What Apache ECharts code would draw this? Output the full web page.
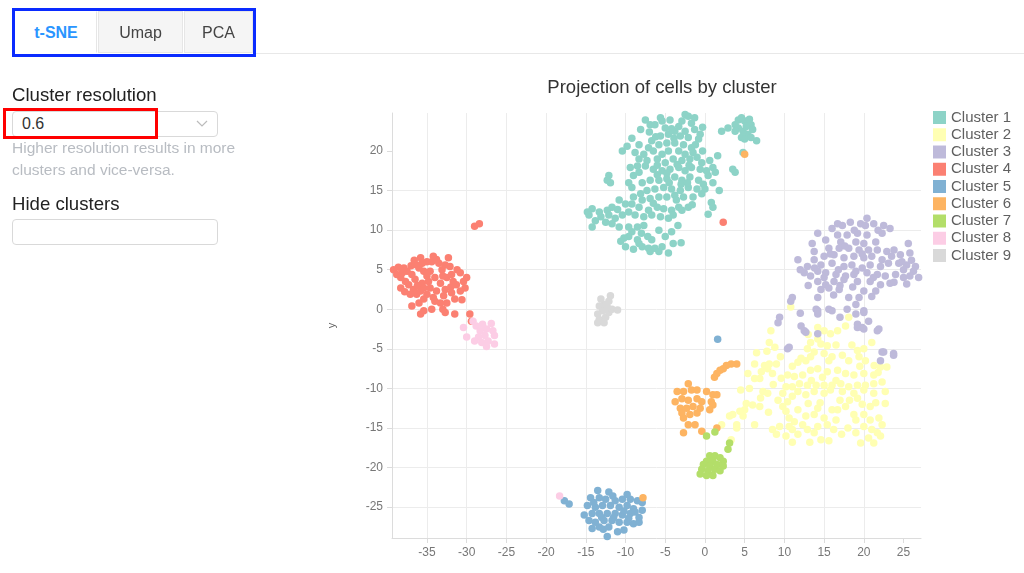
<!DOCTYPE html>
<html>
<head>
<meta charset="utf-8">
<script src="https://cdn.jsdelivr.net/npm/echarts@6/dist/echarts.min.js"></script>
<style>
  html, body { margin:0; padding:0; width:1024px; height:573px; background:#fff; overflow:hidden;
    font-family: "Helvetica Neue", Helvetica, Arial, "Liberation Sans", sans-serif; }
  #chart { position:absolute; left:0; top:0; width:1024px; height:573px; }
  .ui { position:absolute; z-index:2; box-sizing:border-box; }
  .tab { top:11px; height:42px; line-height:42px; text-align:center; font-size:16px; color:#444;
    background:#f5f5f5; border:1px solid #e6e6e6; }
  .lbl { font-size:18.6px; color:#222; white-space:nowrap; }
  .box { border:1px solid #d9d9d9; border-radius:4px; background:#fff; }
  .help { font-size:15.5px; color:#b8bcc2; line-height:22px; white-space:nowrap; }
</style>
</head>
<body>
<div id="chart"></div>

<div class="ui tab" style="left:15px;width:82px;background:#fff;color:#2a95ff;font-weight:600;border-color:#fff #e6e6e6 #fff #fff;">t-SNE</div>
<div class="ui tab" style="left:98px;width:85px;">Umap</div>
<div class="ui tab" style="left:184px;width:69px;">PCA</div>
<div class="ui" style="left:255px;top:53px;width:769px;height:1px;background:#e8e8e8;"></div>
<div class="ui" style="left:12px;top:8px;width:244px;height:49px;border:3px solid #0a2bff;"></div>

<div class="ui lbl" style="left:12px;top:84px;">Cluster resolution</div>
<div class="ui box" style="left:12px;top:111px;width:206px;height:26px;">
  <span style="position:absolute;left:9px;top:3px;font-size:16px;color:#333;">0.6</span>
  <svg style="position:absolute;left:183px;top:8px" width="12" height="8" viewBox="0 0 12 8"><polyline points="1,1 6,6 11,1" fill="none" stroke="#bbb" stroke-width="1.2"/></svg>
</div>
<div class="ui" style="left:3px;top:108px;width:155px;height:31px;border:3px solid #ff0000;"></div>
<div class="ui help" style="left:12px;top:137px;width:240px;">Higher resolution results in more<br>clusters and vice-versa.</div>
<div class="ui lbl" style="left:12px;top:193px;font-weight:500;">Hide clusters</div>
<div class="ui box" style="left:12px;top:219px;width:206px;height:26px;"></div>

<script>
// ---- data ----
const clusterNames = ["Cluster 1","Cluster 2","Cluster 3","Cluster 4","Cluster 5","Cluster 6","Cluster 7","Cluster 8","Cluster 9"];
const xTicks = [-35,-30,-25,-20,-15,-10,-5,0,5,10,15,20,25];
const yTicks = [-25,-20,-15,-10,-5,0,5,10,15,20];

const cluster1 = [
[-2.5,24.6],[-2.1,24.4],[-1.3,24.2],[-1.7,23.5],[-3.3,23.1],[-4.4,23.9],[-5.6,24.2],[-5.4,23.8],[-7.5,23.9],[-6.9,23.3],[-8.1,22.7],[-6.3,23.3],[-5.0,22.9],[-3.8,22.5],[-2.5,22.5],[-1.3,22.7],[-0.6,22.1],[-0.8,21.5],[-2.1,21.7],[-3.1,21.9],[-4.6,22.1],[-5.6,21.9],[-6.7,21.3],[-7.1,20.4],[-5.8,20.8],[-4.8,21.0],[-3.8,21.0],[-2.7,20.8],[-1.7,20.4],[-1.5,19.8],[-2.5,19.6],[-3.3,20.0],[-4.6,20.0],[-5.4,19.6],[-6.5,20.0],[-7.7,19.6],[-8.3,19.0],[-7.3,18.8],[-6.0,19.0],[-5.0,18.5],[-4.0,19.0],[-2.9,18.8],[-1.9,19.0],[-1.0,19.2],[-0.4,18.5],[0.6,18.8],[1.0,17.9],[1.3,17.3],[0.4,16.9],[-0.6,17.7],[-1.7,17.9],[-2.5,17.5],[-3.3,17.9],[-4.4,17.7],[-5.4,17.5],[-6.5,17.7],[-7.5,18.1],[-8.3,17.3],[-9.0,16.9],[-9.6,16.0],[-9.2,15.4],[-7.9,16.0],[-6.9,16.3],[-5.8,16.3],[-4.8,16.5],[-3.8,16.7],[-2.9,16.3],[-1.9,16.7],[-0.8,16.3],[0.0,15.2],[-1.0,15.2],[-2.1,15.4],[-3.1,15.0],[-4.2,15.2],[-5.2,15.4],[-6.3,15.2],[-7.3,15.0],[-8.1,14.6],[-7.9,13.8],[-6.9,14.0],[-5.8,14.2],[-4.8,14.2],[-3.8,14.4],[-2.7,14.2],[-1.5,14.2],[-0.4,14.6],[1.0,16.0],[0.8,13.5],[1.0,12.9],[-2.1,12.9],[-3.3,12.9],[-4.2,12.5],[-5.2,12.7],[-6.0,12.9],[-7.1,12.5],[-8.3,12.9],[-9.2,13.3],[-10.0,13.3],[-10.8,13.8],[-11.7,12.9],[-12.3,12.5],[-13.3,12.3],[-14.2,12.7],[-14.8,12.3],[-14.6,11.9],[-13.1,11.7],[-12.1,11.9],[-11.3,11.5],[-10.4,11.9],[-9.6,12.3],[-8.8,11.9],[-7.7,11.7],[-6.7,11.9],[-5.6,11.7],[-4.6,11.5],[-4.0,11.9],[-2.9,12.5],[-7.7,10.6],[-8.5,10.4],[-9.2,9.8],[-9.6,9.2],[-10.2,9.0],[-10.8,10.4],[-11.7,10.8],[-12.5,11.0],[-14.2,10.4],[-9.6,10.4],[-8.5,8.8],[-7.9,7.9],[-7.1,7.7],[-6.3,7.7],[-5.4,7.9],[-4.6,7.1],[-4.0,8.3],[-5.8,7.3],[-6.9,7.3],[-8.3,8.3],[-10.0,7.9],[-6.7,8.8],[-5.0,9.2],[-4.2,9.8],[-10.4,20.0],[-9.8,20.6],[-8.3,20.8],[-12.1,16.9],[-11.9,16.0],[-12.3,16.3],[-9.4,17.9],[-8.5,18.1],
[-3.5,18.3],[-2.0,18.2],[-4.5,16.0],[-3.0,15.8],[-6.0,17.0],[-1.2,20.8],[-3.9,21.6],[-6.2,21.8],[-0.3,20.0],[0.2,17.5],
[-7.0,22.4],[-4.2,22.8],[-2.9,23.8],[-0.3,23.0],[-9.2,21.6],[-8.8,19.8],[-6.0,18.2],[-4.8,17.2],[-2.2,16.0],[-0.2,15.8],[-3.6,13.8],[-6.5,13.4],[-9.0,14.2],[-11.0,12.6],[-13.8,11.2],[-8.0,9.6],[-7.2,9.2],[-5.8,10.0],[-3.4,10.6],[0.4,12.0],[1.8,15.0],[1.6,19.4],[-1.6,13.2],[-10.6,8.6],[-9.0,7.6],[-3.0,8.4],
[2.1,22.5],[2.9,22.9],[3.8,23.3],[4.2,23.9],[4.6,24.2],[5.0,23.8],[5.4,23.8],[5.8,23.3],[6.0,22.7],[5.4,22.1],[4.8,22.5],[4.2,22.9],[3.8,22.5],[4.6,21.7],[5.0,21.5],[5.8,21.7],[6.5,21.3],[5.6,24.0],[5.2,23.1],[4.8,19.8],[3.5,17.7],[3.8,17.3]
];
const cluster2 = [
[8.3,-2.7],[8.1,-4.2],[14.2,-2.3],[15.0,-2.7],[15.8,-3.1],[16.7,-2.7],[17.7,-2.1],[18.1,-1.0],[14.2,-3.75],[13.3,-4.2],[14.6,-4.4],[15.4,-4.6],[12.9,-5.0],[13.75,-5.4],[13.3,-6.0],[12.1,-6.2],[12.7,-6.5],[11.7,-6.7],[15.0,-5.6],[16.0,-6.0],[15.6,-6.5],[17.3,-5.8],[18.1,-6.5],[19.2,-5.2],[19.4,-6.0],[21.0,-4.2],[20.2,-6.5],[21.3,-7.1],[22.1,-7.3],[22.9,-7.3],[6.25,-6.9],[7.5,-7.1],[8.1,-6.9],[9.0,-6.9],[7.9,-7.5],[7.1,-7.9],[6.25,-8.75],[5.4,-8.1],[6.9,-8.75],[8.5,-8.1],[10.4,-8.3],[11.25,-8.5],[12.3,-8.3],[13.3,-7.7],[14.2,-7.5],[15.4,-7.9],[16.7,-7.7],[17.7,-8.1],[18.75,-8.3],[20.0,-8.1],[21.25,-8.3],[22.3,-9.2],[21.25,-9.4],[20.2,-9.6],[19.2,-9.6],[18.1,-9.8],[17.1,-9.4],[16.0,-9.6],[15.0,-9.6],[14.0,-9.6],[12.9,-9.6],[11.9,-9.4],[11.0,-9.8],[10.2,-9.8],[11.7,-10.4],[12.7,-10.8],[13.75,-10.4],[15.0,-10.6],[15.8,-10.2],[17.3,-10.4],[18.75,-10.6],[20.0,-10.2],[21.25,-10.6],[22.7,-10.4],[19.2,-11.25],[7.3,-10.4],[7.9,-10.6],[9.2,-11.5],[9.8,-12.3],[10.2,-12.9],[10.4,-11.7],[5.2,-11.9],[6.0,-12.1],[6.9,-12.3],[5.0,-12.7],[3.5,-13.3],[3.1,-13.5],[4.0,-14.6],[6.25,-14.6],[4.8,-13.5],[11.7,-12.7],[12.7,-13.5],[13.75,-13.3],[15.0,-13.75],[16.0,-12.7],[16.7,-12.7],[17.7,-12.3],[18.75,-13.3],[20.0,-13.3],[20.8,-12.3],[20.8,-14.0],[21.9,-13.75],[10.6,-13.75],[11.25,-14.2],[10.6,-14.8],[9.4,-14.8],[8.5,-15.2],[9.0,-15.8],[10.2,-16.0],[11.0,-15.2],[11.7,-15.8],[12.3,-14.6],[12.9,-15.2],[13.75,-15.6],[14.6,-16.5],[14.2,-14.8],[15.4,-14.6],[16.2,-15.2],[19.0,-15.6],[20.0,-14.8],[21.0,-15.2],[22.1,-16.0],[19.6,-16.9],[20.6,-16.25],[21.25,-16.9],
[4.4,-12.9],[4.0,-15.0],[3.3,-16.5],[2.1,-14.6],[22.7,-11.9],[22.3,-14.6],[10.8,0.3],[6.5,-5.5],[7.8,-5.3],[8.8,-4.8],[9.5,-6.0],[17.0,-11.5],[14.5,-11.8],[13.0,-11.9],[16.5,-14.0],[18.0,-15.0],[19.8,-12.0],[11.0,-11.0],[8.6,-9.5],[9.6,-8.7],[4.5,-10.2],[5.6,-10.0],
[13.0,-3.2],[16.5,-4.5],[18.5,-4.5],[20.0,-5.0],[11.0,-7.2],[14.8,-8.6],[19.5,-7.2],[21.8,-8.0],[13.4,-9.0],[16.5,-9.0],[9.8,-10.6],[14.2,-12.5],[18.2,-11.5],[21.5,-11.8],[19.0,-14.0],[17.2,-15.8],[13.2,-16.8],[11.0,-16.8],[8.0,-13.0],[7.0,-11.2],[15.6,-16.6],[21.7,-15.6]
];
const cluster3 = [
[16.7,10.8],[17.3,10.6],[18.3,11.0],[19.6,10.8],[20.4,11.5],[21.25,10.8],[22.5,10.6],[23.3,10.2],[20.2,10.6],[14.2,9.6],[16.7,9.4],[17.9,9.4],[19.2,9.6],[20.4,9.4],[22.3,9.6],[15.2,8.75],[17.1,8.5],[19.0,8.5],[20.0,8.3],[21.5,8.5],[25.6,8.3],[13.5,8.3],[13.75,7.3],[15.6,7.7],[16.9,7.7],[18.1,7.7],[19.4,7.5],[20.6,7.5],[21.7,7.5],[22.9,7.3],[13.75,6.25],[15.0,6.7],[16.25,6.9],[17.5,6.5],[18.75,6.7],[20.0,6.5],[21.0,6.7],[22.3,6.25],[23.5,6.7],[24.6,6.9],[25.8,7.1],[11.7,6.25],[12.9,5.4],[14.6,5.6],[16.0,5.8],[17.5,5.4],[18.5,5.6],[19.8,5.2],[20.8,5.6],[22.1,5.4],[23.1,5.8],[24.4,5.8],[25.4,5.6],[26.5,5.4],[25.0,5.0],[26.25,4.8],[26.9,4.0],[12.5,4.6],[13.3,4.2],[14.2,4.8],[15.2,4.6],[16.5,4.4],[17.7,4.2],[18.75,4.4],[20.4,4.6],[21.7,4.4],[22.7,4.2],[24.0,4.4],[25.0,4.0],[25.8,4.2],[14.2,3.5],[15.2,3.1],[16.25,3.5],[17.5,3.75],[19.2,3.5],[20.8,3.5],[22.1,3.1],[23.3,3.3],[14.6,2.5],[15.6,2.7],[16.9,2.5],[18.1,1.5],[20.0,2.3],[21.5,2.3],[19.4,1.5],[14.2,1.5],[15.6,0.0],[14.0,0.0],[14.2,-0.6],[19.0,0.6],[17.9,0.0],[20.0,-0.2],[11.0,1.5],[10.8,1.0],[9.4,-1.0],[9.2,-1.7],[12.5,-2.7],[19.2,-1.9],[19.8,-2.3],[21.9,-2.5],[10.6,-4.8],[22.3,-5.4],[23.75,-5.6],
[12.1,-2.1],[14.2,-3.1],[12.7,-2.9],[14.2,-0.2],[16.0,-0.2],[19.0,-0.6],[20.0,-0.4],[19.2,-2.3],[20.0,-2.5],[20.6,-1.5],[21.7,-2.7],[10.4,-5.0],[22.5,-5.4],[23.75,-5.8],[22.1,-6.5],
[16.0,10.2],[18.8,10.0],[21.8,10.0],[15.8,7.0],[17.6,8.0],[19.8,7.0],[23.8,7.5],[24.8,6.0],[26.0,6.2],[12.0,5.0],[13.8,5.2],[16.8,5.0],[19.0,4.8],[21.2,4.0],[23.8,3.4],[25.4,3.2],[15.0,4.0],[17.0,3.0],[18.6,2.8],[13.0,3.0],[16.2,1.8],[21.0,1.6],[12.0,-0.5],[17.0,-1.0]
];
const cluster4 = [
[-39.2,5.0],[-38.8,4.4],[-38.1,4.6],[-37.5,4.8],[-38.3,4.0],[-37.7,3.5],[-38.3,2.7],[-36.9,4.4],[-36.5,3.8],[-37.3,3.1],[-36.7,2.5],[-35.8,6.5],[-35.6,5.8],[-36.0,5.2],[-35.4,4.8],[-35.0,4.2],[-35.6,3.3],[-36.3,1.9],[-36.9,0.4],[-36.0,0.8],[-35.4,1.3],[-35.0,1.9],[-34.6,2.7],[-34.2,6.7],[-33.5,5.8],[-33.1,5.0],[-32.3,6.5],[-32.1,5.4],[-34.0,4.0],[-33.3,3.3],[-32.5,4.0],[-31.9,4.4],[-30.8,4.6],[-30.4,3.5],[-31.3,3.1],[-32.7,2.5],[-31.9,2.1],[-30.8,2.3],[-34.2,1.5],[-33.3,0.8],[-34.4,0.0],[-35.4,-0.2],[-32.7,-0.4],[-31.5,-0.6],[-33.8,2.3],[-34.8,3.5],[-32.9,1.7],[-31.5,1.3],[-30.2,2.7],[-37.9,5.2],[-35.4,2.7],[-32.5,0.8],[-29.6,-0.6],[-29.4,-1.5],
[-34.4,6.0],[-32.7,5.6],[-36.3,5.6],[-34.6,4.8],[-35.8,2.3],[-37.1,1.9],[-31.7,3.5],
[-38.6,5.3],[-37.0,5.5],[-36.6,6.2],[-35.0,6.0],[-33.8,6.3],[-33.0,4.2],[-31.2,5.0],[-30.0,4.0],[-36.2,3.0],[-37.8,2.2],[-34.0,1.0],[-33.0,0.0],[-35.8,-0.6],[-30.6,1.2],[-32.0,2.8],
[-29.0,10.5],[-28.4,10.8],[2.3,11.0]
];
const cluster5 = [
[-13.5,-22.9],[-12.1,-23.1],[-14.4,-23.8],[-13.3,-23.8],[-12.5,-24.0],[-11.3,-24.2],[-10.4,-24.0],[-9.4,-24.0],[-8.5,-24.2],[-7.9,-24.4],[-14.8,-24.8],[-13.8,-25.0],[-12.9,-24.8],[-11.9,-24.8],[-10.8,-25.0],[-9.8,-24.8],[-9.0,-25.2],[-7.9,-25.4],[-15.2,-26.0],[-14.2,-25.8],[-13.3,-25.8],[-12.3,-25.8],[-11.3,-25.8],[-10.4,-26.0],[-9.4,-25.8],[-8.3,-26.3],[-14.6,-26.7],[-13.8,-26.9],[-12.7,-26.7],[-11.7,-26.7],[-10.8,-26.9],[-9.8,-26.9],[-9.0,-27.1],[-14.2,-27.7],[-13.3,-27.5],[-12.1,-27.5],[-11.0,-28.1],[-10.2,-27.9],[-12.3,-28.7],[-8.3,-26.9],[-11.5,-26.3],
[-14.0,-24.4],[-11.6,-23.6],[-9.8,-23.4],[-8.8,-25.6],[-13.0,-26.3],[-10.2,-25.5],[-12.8,-27.8],[-9.6,-26.4],
[-17.7,-24.2],[-17.1,-24.6],[1.6,-3.8]
];
const cluster6 = [
[4.0,-6.9],[3.3,-6.9],[2.7,-7.1],[2.3,-7.5],[1.9,-7.7],[1.5,-8.1],[1.2,-8.6],
[-2.1,-9.4],[-3.5,-10.4],[-2.7,-10.4],[-1.7,-10.2],[-1.0,-10.2],[0.2,-10.4],[1.0,-10.8],[1.5,-10.8],[-3.75,-11.7],[-2.9,-11.3],[-2.1,-11.5],[-1.0,-11.3],[-0.4,-11.7],[0.8,-11.7],[1.0,-12.1],[-3.1,-12.5],[-2.3,-12.5],[-1.5,-12.3],[-0.6,-12.5],[0.6,-12.7],[-2.9,-13.1],[-1.9,-13.3],[-1.0,-13.1],[-2.7,-13.75],[-2.1,-14.6],[-1.25,-14.6],[-2.7,-15.6],[-0.4,-15.4],[1.5,-15.0],
[5.0,19.6],[-7.8,-23.8]
];
const cluster7 = [
[0.2,-16.0],[1.25,-15.5],[3.1,-16.9],[2.9,-17.7],[0.6,-18.5],[1.25,-18.5],[1.9,-18.75],[2.3,-19.2],[0.2,-19.2],[1.0,-19.2],[-0.2,-19.6],[0.6,-19.8],[1.5,-19.6],[2.3,-19.8],[-0.4,-20.2],[0.4,-20.4],[1.25,-20.2],[1.9,-20.4],[-0.6,-20.8],[0.2,-21.0],[1.0,-21.0]
];
const cluster8 = [
[-29.2,-1.5],[-30.4,-2.3],[-28.8,-2.1],[-28.0,-1.9],[-26.9,-1.8],[-28.3,-2.7],[-27.5,-2.5],[-26.7,-2.7],[-30.0,-3.5],[-28.5,-3.5],[-27.7,-3.3],[-26.5,-3.3],[-28.1,-4.2],[-27.3,-4.0],[-26.5,-4.4],[-27.5,-4.7],[-29.0,-4.0],
[-18.3,-23.6]
];
const cluster9 = [
[-11.9,1.7],[-12.1,1.0],[-12.7,0.6],[-13.3,0.4],[-12.9,-0.2],[-13.5,-0.6],[-13.3,-1.3],[-12.5,-1.0],[-12.1,-0.4],[-11.7,0.0],[-11.0,-0.1],[-13.5,-1.7],[-12.7,-1.7],[-13.1,1.3],[-12.3,0.3]
];
const clusterColors = ["#8dd3c7","#ffffb3","#bebada","#fb8072","#80b1d3","#fdb462","#b3de69","#fccde5","#d9d9d9"];
const allClusters = [cluster1,cluster2,cluster3,cluster4,cluster5,cluster6,cluster7,cluster8,cluster9];

// ---- chart ----
const chart = echarts.init(document.getElementById('chart'), null, {renderer:'canvas'});
const font = '"Helvetica Neue", Helvetica, Arial, "Liberation Sans", sans-serif';
chart.setOption({
  animation: false,
  color: clusterColors,
  textStyle: { fontFamily: font },
  title: {
    text: 'Projection of cells by cluster',
    left: 657, textAlign: 'center', top: 73,
    textStyle: { fontSize: 18.5, fontWeight: 'normal', color: '#333', fontFamily: font }
  },
  legend: {
    orient: 'vertical', left: 928, top: 105,
    icon: 'rect', itemWidth: 13, itemHeight: 13, itemGap: 2.25,
    textStyle: { fontSize: 15, color: '#606060', lineHeight: 13 },
    data: clusterNames
  },
  grid: { left: 392, right: 103, top: 113, bottom: 35 },
  xAxis: {
    type: 'value', min: -39.4, max: 27.2, splitNumber: 13,
    axisLine: { show: true, onZero: false, lineStyle: { color: '#dcdcdc' } },
    axisTick: { show: true, length: 5, lineStyle: { color: '#dcdcdc' }, customValues: xTicks },
    axisLabel: { color: '#777', fontSize: 12, margin: 9, customValues: xTicks },
    splitLine: { show: true, showMaxLine: false, lineStyle: { color: '#ececec' } }
  },
  yAxis: {
    type: 'value', min: -28.9, max: 24.8, splitNumber: 11,
    name: 'y', nameLocation: 'middle', nameGap: 55,
    nameTextStyle: { fontSize: 11, color: '#666' },
    axisLine: { show: true, onZero: false, lineStyle: { color: '#dcdcdc' } },
    axisTick: { show: true, length: 5, lineStyle: { color: '#dcdcdc' }, customValues: yTicks },
    axisLabel: { color: '#777', fontSize: 12, margin: 9, customValues: yTicks },
    splitLine: { show: true, showMaxLine: false, lineStyle: { color: '#ececec' } }
  },
  series: clusterNames.map((name, i) => ({
    name: name, type: 'scatter', data: allClusters[i],
    symbolSize: 7.5,
    itemStyle: { color: clusterColors[i], opacity: 1 }
  }))
});
</script>
</body>
</html>
